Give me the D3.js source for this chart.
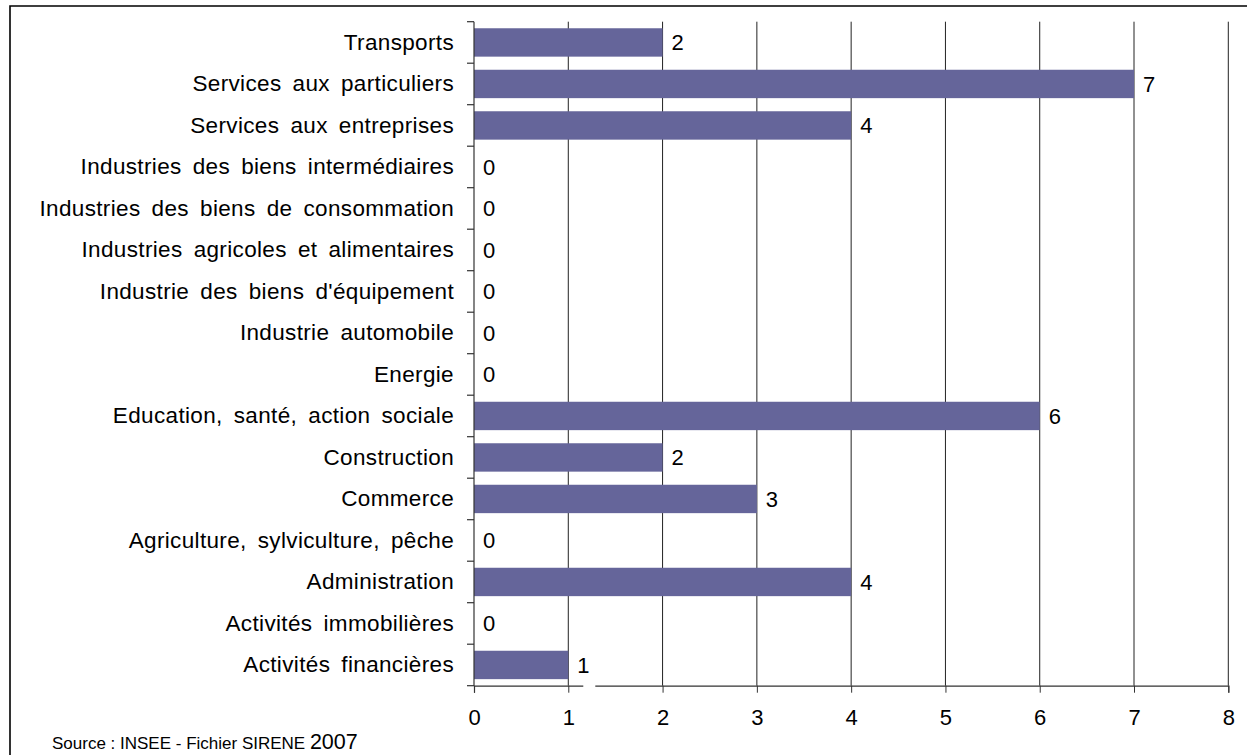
<!DOCTYPE html>
<html><head><meta charset="utf-8">
<script src="https://cdn.jsdelivr.net/npm/d3@7"></script>
<style>
body{margin:0;background:#fff;}
svg{display:block;font-family:"Liberation Sans",Arial,Helvetica,sans-serif;}
</style></head>
<body>
<svg id="chart" width="1247" height="755"></svg>
<script>
const categories = ["Transports","Services aux particuliers","Services aux entreprises","Industries des biens intermédiaires","Industries des biens de consommation","Industries agricoles et alimentaires","Industrie des biens d'équipement","Industrie automobile","Energie","Education, santé, action sociale","Construction","Commerce","Agriculture, sylviculture, pêche","Administration","Activités immobilières","Activités financières"];
const values = [2,7,4,0,0,0,0,0,0,6,2,3,0,4,0,1];
const xTicks = [0,1,2,3,4,5,6,7,8];
const sourceText = "Source : INSEE - Fichier SIRENE";
const sourceYear = "2007";

(function(){
const svg = d3.select("#chart");
const pLeft = 474, pRight = 1228.3, pTop = 21.7, pBottom = 685.7;
const x = d3.scaleLinear().domain([0,8]).range([pLeft,pRight]);
const y = d3.scaleBand().domain(categories).range([pTop,pBottom]).paddingInner(0.316).paddingOuter(0.158);
const barColor = "#65659a";

// frame
svg.append("path").attr("d", `M10,755 L10,6 L1247,6`).attr("fill","none").attr("stroke","#000").attr("stroke-width",1.6);

// gridlines
svg.append("g").selectAll("line").data(xTicks.filter(d=>d>0)).join("line")
  .attr("x1",d=>x(d)).attr("x2",d=>x(d)).attr("y1",pTop).attr("y2",pBottom)
  .attr("stroke","#222").attr("stroke-width",1);

// bars
svg.append("g").selectAll("rect").data(categories).join("rect")
  .attr("x",x(0)).attr("y",d=>y(d))
  .attr("width",(d,i)=>x(values[i])-x(0)).attr("height",y.bandwidth())
  .attr("fill",barColor);

// x axis
const xAxis = svg.append("g").attr("transform",`translate(0,${pBottom})`)
  .call(d3.axisBottom(x).tickValues(xTicks).tickSize(7).tickPadding(17).tickFormat(d3.format("d")));
xAxis.select(".domain").attr("stroke","#333").attr("stroke-width",1.2);
xAxis.selectAll(".tick line").attr("stroke","#333");
xAxis.selectAll("text").attr("font-size",22).attr("fill","#000").attr("font-family","Liberation Sans, Arial, sans-serif");

// y axis (ticks at band boundaries)
const yAxisG = svg.append("g");
yAxisG.append("line").attr("x1",x(0)).attr("x2",x(0)).attr("y1",pTop).attr("y2",pBottom).attr("stroke","#333").attr("stroke-width",1.2);
const bounds = categories.map(c=>y(c)-y.step()*y.paddingInner()/2).concat([pBottom]);
yAxisG.selectAll("line.t").data(bounds).join("line").attr("class","t")
  .attr("x1",x(0)-7).attr("x2",x(0)).attr("y1",d=>d).attr("y2",d=>d).attr("stroke","#333").attr("stroke-width",1.2);
yAxisG.selectAll("text").data(categories).join("text")
  .attr("x",x(0)-20).attr("y",d=>y(d)+y.bandwidth()/2).attr("dy","0.33em")
  .attr("text-anchor","end").attr("font-size",22.5).attr("letter-spacing","0.35px").attr("word-spacing","4.5px")
  .text(d=>d);

// value labels
const lab = svg.append("g");
lab.selectAll("rect").data(categories).join("rect")
  .attr("x",(d,i)=>x(values[i])+15).attr("y",d=>y(d)+y.bandwidth()/2)
  .attr("width",12).attr("height",y.bandwidth()).attr("fill",(d,i)=>values[i]===1?"#fff":"none");
lab.selectAll("text").data(categories).join("text")
  .attr("x",(d,i)=>x(values[i])+9).attr("y",d=>y(d)+y.bandwidth()/2).attr("dy","0.35em")
  .attr("font-size",22).text((d,i)=>values[i]);

// source
const src = svg.append("text").attr("x",52).attr("y",749);
src.append("tspan").attr("font-size",17).text(sourceText+" ");
src.append("tspan").attr("font-size",21.5).text(sourceYear);
})();
</script>
</body></html>
